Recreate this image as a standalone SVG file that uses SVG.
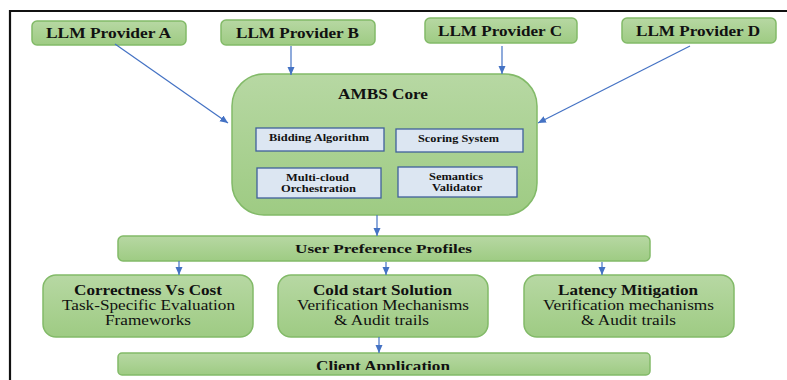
<svg xmlns="http://www.w3.org/2000/svg" width="787" height="380" viewBox="0 0 787 380" font-family="'Liberation Serif', 'Times New Roman', 'DejaVu Serif', serif">
<defs>
<linearGradient id="g" x1="0" y1="0" x2="0" y2="1">
<stop offset="0" stop-color="#b7d8a3"/>
<stop offset="1" stop-color="#9ecb83"/>
</linearGradient>
<marker id="ah" markerWidth="9" markerHeight="8" refX="8" refY="3.5" orient="auto" markerUnits="userSpaceOnUse">
<path d="M0,0 L8,3.5 L0,7 z" fill="#4472c4"/>
</marker>
<clipPath id="clipClient"><rect x="0" y="0" width="787" height="370"/></clipPath>
<style>
.gbox{fill:url(#g);stroke:#82ba68;stroke-width:1.5}
.ibox{fill:#dce6f2;stroke:#3f609a;stroke-width:1.3}
text{font-family:'Liberation Serif','Times New Roman','DejaVu Serif',serif;fill:#111}
.b{font-weight:bold}
.conn line{stroke:#4472c4;stroke-width:1.2;marker-end:url(#ah)}
</style>
</defs>
<rect x="0" y="0" width="787" height="380" fill="#ffffff"/>
<path d="M10,380 L10,11 L787,11" fill="none" stroke="#111" stroke-width="2.2"/>

<g id="providerA">
<rect class="gbox" x="32" y="21" width="154" height="24" rx="5"/>
<text class="b" x="46" y="38" font-size="14.5" textLength="125" lengthAdjust="spacingAndGlyphs">LLM Provider A</text>
</g>
<g id="providerB">
<rect class="gbox" x="221" y="20" width="154" height="25" rx="5"/>
<text class="b" x="236" y="37.5" font-size="14.5" textLength="123" lengthAdjust="spacingAndGlyphs">LLM Provider B</text>
</g>
<g id="providerC">
<rect class="gbox" x="425" y="18" width="152" height="25" rx="5"/>
<text class="b" x="438" y="36" font-size="14.5" textLength="124" lengthAdjust="spacingAndGlyphs">LLM Provider C</text>
</g>
<g id="providerD">
<rect class="gbox" x="622" y="18" width="154" height="25" rx="5"/>
<text class="b" x="636" y="36" font-size="14.5" textLength="124" lengthAdjust="spacingAndGlyphs">LLM Provider D</text>
</g>

<g id="ambsCore">
<rect class="gbox" x="232" y="74" width="305" height="141" rx="32"/>
<text class="b" x="338" y="99" font-size="14.5" textLength="90" lengthAdjust="spacingAndGlyphs">AMBS Core</text>
</g>
<g id="bidding">
<rect class="ibox" x="256" y="128" width="128" height="23"/>
<text class="b" x="269" y="141" font-size="11" textLength="100" lengthAdjust="spacingAndGlyphs">Bidding Algorithm</text>
</g>
<g id="scoring">
<rect class="ibox" x="396" y="129" width="127" height="23"/>
<text class="b" x="418" y="141.5" font-size="11" textLength="81" lengthAdjust="spacingAndGlyphs">Scoring System</text>
</g>
<g id="multicloud">
<rect class="ibox" x="257" y="168" width="124" height="30"/>
<text class="b" x="286" y="180.5" font-size="10.5" textLength="63" lengthAdjust="spacingAndGlyphs">Multi-cloud</text>
<text class="b" x="281" y="191.5" font-size="10.5" textLength="75" lengthAdjust="spacingAndGlyphs">Orchestration</text>
</g>
<g id="semantics">
<rect class="ibox" x="398" y="167" width="119" height="30"/>
<text class="b" x="429" y="180" font-size="10.5" textLength="54" lengthAdjust="spacingAndGlyphs">Semantics</text>
<text class="b" x="432" y="191" font-size="10.5" textLength="50" lengthAdjust="spacingAndGlyphs">Validator</text>
</g>

<g id="userPreferenceProfiles">
<rect class="gbox" x="118" y="236" width="532" height="25" rx="5"/>
<text class="b" x="295" y="252.5" font-size="13.5" textLength="177" lengthAdjust="spacingAndGlyphs">User Preference Profiles</text>
</g>

<g id="correctness">
<rect class="gbox" x="43" y="275" width="210" height="62" rx="13"/>
<text class="b" x="74" y="295" font-size="14" textLength="148" lengthAdjust="spacingAndGlyphs">Correctness Vs Cost</text>
<text x="62" y="310" font-size="14" textLength="173" lengthAdjust="spacingAndGlyphs">Task-Specific Evaluation</text>
<text x="105" y="324.5" font-size="14" textLength="86" lengthAdjust="spacingAndGlyphs">Frameworks</text>
</g>
<g id="coldStart">
<rect class="gbox" x="278" y="275" width="210" height="62" rx="13"/>
<text class="b" x="313" y="295" font-size="14" textLength="139" lengthAdjust="spacingAndGlyphs">Cold start Solution</text>
<text x="297" y="310" font-size="14" textLength="172" lengthAdjust="spacingAndGlyphs">Verification Mechanisms</text>
<text x="334" y="324.5" font-size="14" textLength="95" lengthAdjust="spacingAndGlyphs">&amp; Audit trails</text>
</g>
<g id="latency">
<rect class="gbox" x="524" y="275" width="210" height="62" rx="13"/>
<text class="b" x="558" y="295" font-size="14" textLength="140" lengthAdjust="spacingAndGlyphs">Latency Mitigation</text>
<text x="543" y="310" font-size="14" textLength="171" lengthAdjust="spacingAndGlyphs">Verification mechanisms</text>
<text x="581" y="324.5" font-size="14" textLength="95" lengthAdjust="spacingAndGlyphs">&amp; Audit trails</text>
</g>

<g id="clientApplication">
<rect class="gbox" x="118" y="353" width="532" height="22" rx="4"/>
<text class="b" x="316" y="371" font-size="14" textLength="134" lengthAdjust="spacingAndGlyphs" clip-path="url(#clipClient)">Client Application</text>
</g>

<g id="connectors" class="conn">
<line x1="115" y1="44" x2="228" y2="123"/>
<line x1="291" y1="46" x2="291" y2="75"/>
<line x1="502" y1="46" x2="502" y2="74"/>
<line x1="690" y1="46" x2="538" y2="123"/>
<line x1="377" y1="215" x2="377" y2="236"/>
<line x1="179" y1="261" x2="179" y2="275"/>
<line x1="386" y1="262" x2="386" y2="275"/>
<line x1="602" y1="262" x2="602" y2="275"/>
<line x1="379" y1="337" x2="379" y2="353"/>
</g>
</svg>
